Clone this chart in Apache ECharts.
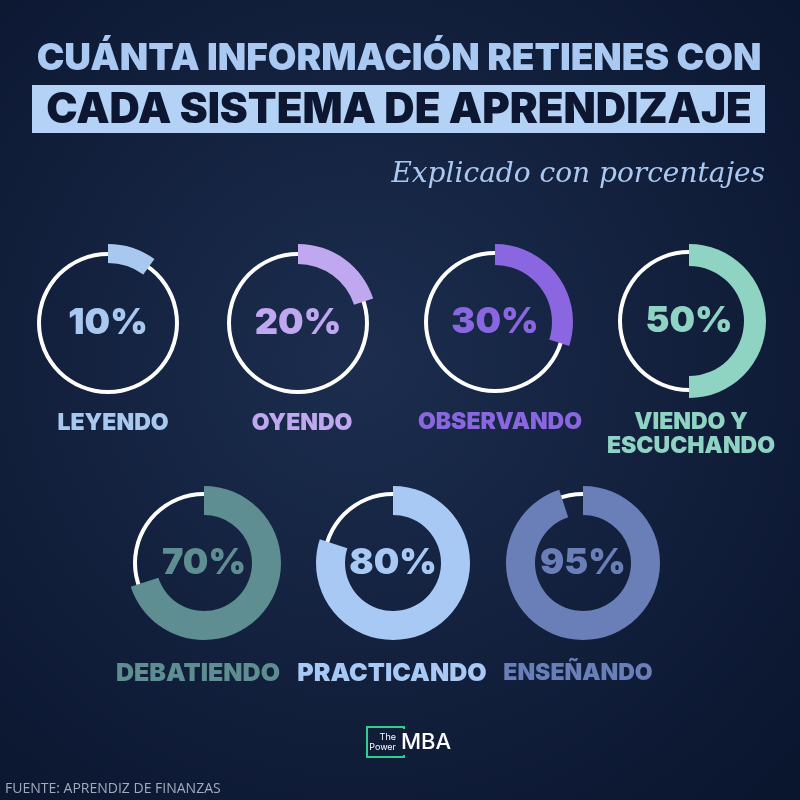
<!DOCTYPE html>
<html>
<head>
<meta charset="utf-8">
<script src="https://cdn.jsdelivr.net/npm/echarts@6/dist/echarts.min.js"></script>
<style>
  html, body { margin: 0; padding: 0; background: #0f1d38; }
  #chart { width: 800px; height: 800px; }
</style>
</head>
<body>
<div id="chart"></div>
<script>
var categories = ['LEYENDO', 'OYENDO', 'OBSERVANDO', 'VIENDO Y\nESCUCHANDO', 'DEBATIENDO', 'PRACTICANDO', 'ENSEÑANDO'];
var percentages = [10, 20, 30, 50, 70, 80, 95];
var titleLines = ['CUÁNTA INFORMACIÓN RETIENES CON', 'CADA SISTEMA DE APRENDIZAJE'];
var subtitle = 'Explicado con porcentajes';
var sourceText = 'FUENTE: APRENDIZ DE FINANZAS';

// Layout / style
var palette = ['#a9c8f0', '#c0a8f0', '#8a66e0', '#8fd3c3', '#5e8e91', '#a9c9f5', '#6a7eb8'];
var centers = [[108, 323], [298, 323], [495, 322], [689, 321], [204, 563], [393, 563], [583, 563]];
var arcRadius = [[60, 79], [59, 79], [57, 78], [55, 77], [48, 77], [48, 77], [48, 77]];
var labelPos = [[113, 423], [302, 423], [500, 422], [691, 434], [198, 673], [392, 673], [578, 673]];
var labelSize = [23, 23, 23, 23, 25, 25, 23];
var heavyFont = 'Inter, "Open Sans", sans-serif';

var chart = echarts.init(document.getElementById('chart'));

var series = [];
percentages.forEach(function(p, i) {
  // white track ring
  series.push({
    type: 'pie',
    silent: true,
    z: 1,
    center: centers[i],
    radius: [67, 71],
    label: {show: false},
    data: [{value: 100, itemStyle: {color: '#ffffff'}}]
  });
  // coloured progress arc
  series.push({
    type: 'pie',
    silent: true,
    z: 3,
    center: centers[i],
    radius: arcRadius[i],
    startAngle: 90,
    clockwise: true,
    avoidLabelOverlap: false,
    labelLine: {show: false},
    data: [
      {
        value: p,
        itemStyle: {color: palette[i]},
        label: {
          show: true,
          position: 'center',
          formatter: '{c}%',
          color: palette[i],
          fontFamily: heavyFont,
          fontWeight: 900,
          fontSize: 36
        }
      },
      {value: 100 - p, itemStyle: {color: 'rgba(0,0,0,0)'}, label: {show: false}}
    ]
  });
});

// category names under each ring
var labelGraphics = categories.map(function(c, i) {
  return {
    type: 'text',
    x: labelPos[i][0],
    y: labelPos[i][1],
    style: {
      text: c,
      fill: palette[i],
      font: '900 ' + labelSize[i] + 'px ' + heavyFont,
      align: 'center',
      verticalAlign: 'middle',
      lineHeight: 24
    }
  };
});

chart.setOption({
  backgroundColor: new echarts.graphic.RadialGradient(0.45, 0.45, 0.75, [
    {offset: 0, color: '#1c2d4e'},
    {offset: 1, color: '#0a152e'}
  ]),
  animation: false,
  series: series,
  graphic: [
    {
      type: 'text', x: 399, y: 59,
      style: {text: titleLines[0], fill: '#a9c9f2', font: '900 37px ' + heavyFont, align: 'center', verticalAlign: 'middle'}
    },
    {
      type: 'rect', shape: {x: 32, y: 85, width: 733, height: 48},
      style: {fill: '#b3d2f5'}
    },
    {
      type: 'text', x: 399, y: 110,
      style: {text: titleLines[1], fill: '#0d1731', font: '900 42px ' + heavyFont, align: 'center', verticalAlign: 'middle'}
    },
    {
      type: 'text', x: 765, y: 175,
      style: {text: subtitle, fill: '#a9c9f2', font: 'italic 28px "DejaVu Serif", serif', align: 'right', verticalAlign: 'middle'}
    },
    // logo
    {
      type: 'polyline', shape: {points: [[404, 729], [404, 727], [367, 727], [367, 757], [404, 757], [404, 755]]},
      style: {stroke: '#2fd08f', lineWidth: 2, fill: null}
    },
    {
      type: 'text', x: 396, y: 737,
      style: {text: 'The', fill: '#ffffff', font: '9px Inter, sans-serif', align: 'right', verticalAlign: 'middle'}
    },
    {
      type: 'text', x: 396, y: 747,
      style: {text: 'Power', fill: '#ffffff', font: '9px Inter, sans-serif', align: 'right', verticalAlign: 'middle'}
    },
    {
      type: 'text', x: 401, y: 742,
      style: {text: 'MBA', fill: '#ffffff', font: '500 22px Inter, sans-serif', align: 'left', verticalAlign: 'middle'}
    },
    {
      type: 'text', x: 5, y: 789,
      style: {text: sourceText, fill: '#a2abbd', font: '14px "Open Sans", sans-serif', align: 'left', verticalAlign: 'middle'}
    }
  ].concat(labelGraphics)
});

window.addEventListener('resize', function() {
  chart.resize();
});
</script>
</body>
</html>
